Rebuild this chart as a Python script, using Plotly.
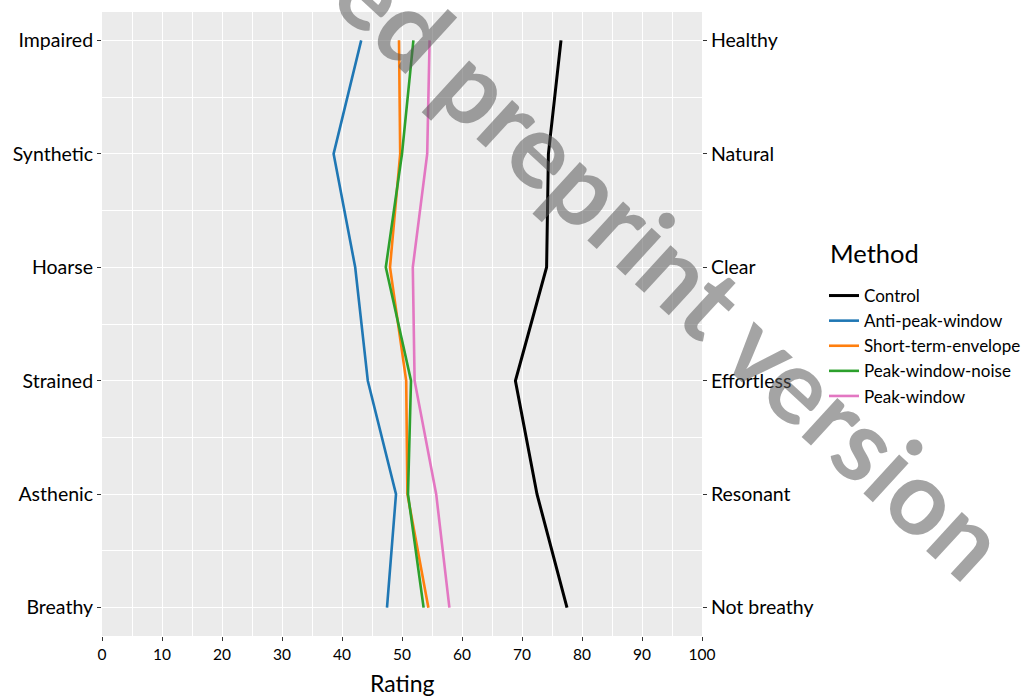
import plotly.graph_objects as go

# ---- data ----
left_labels = ["Breathy", "Asthenic", "Strained", "Hoarse", "Synthetic", "Impaired"]
right_labels = ["Not breathy", "Resonant", "Effortless", "Clear", "Natural", "Healthy"]
positions = [1, 2, 3, 4, 5, 6]

methods = ["Control", "Anti-peak-window", "Short-term-envelope", "Peak-window-noise", "Peak-window"]
control = [77.5, 72.5, 68.9, 74.1, 74.4, 76.5]
anti_peak_window = [47.5, 49.0, 44.3, 42.2, 38.6, 43.2]
short_term_envelope = [54.4, 50.9, 50.7, 48.0, 49.7, 49.5]
peak_window_noise = [53.6, 51.0, 51.5, 47.3, 50.0, 51.9]
peak_window = [57.9, 55.7, 52.1, 51.8, 54.2, 54.6]

series = [control, anti_peak_window, short_term_envelope, peak_window_noise, peak_window]
colors = ["#000000", "#1f77b4", "#ff7f0e", "#2ca02c", "#e377c2"]
widths = [3, 2.6, 2.6, 2.6, 2.6]

x_ticks = list(range(0, 101, 10))

FONT = "Lato"
W, H = 1029, 696

fig = go.Figure()
for name, vals, c, w in zip(methods, series, colors, widths):
    fig.add_trace(go.Scatter(x=vals, y=positions, mode="lines", name=name,
                             line=dict(color=c, width=w)))

# dummy trace to activate right axis
fig.add_trace(go.Scatter(x=[None], y=[None], yaxis="y2", showlegend=False,
                         hoverinfo="skip"))

yrange = [0.75, 6.25]
common_y = dict(range=yrange, tickmode="array", tickvals=positions,
                ticks="outside", ticklen=4, tickcolor="#333333", tickwidth=1,
                tickfont=dict(family=FONT, size=19.5, color="#000000"),
                zeroline=False, showline=False)

fig.update_layout(
    width=W, height=H,
    margin=dict(l=102, r=327, t=12, b=60, autoexpand=False),
    paper_bgcolor="white", plot_bgcolor="#ebebeb",
    font=dict(family=FONT, color="#000000"),
    xaxis=dict(range=[0, 100], tickmode="array", tickvals=x_ticks,
               ticks="outside", ticklen=4, tickcolor="#333333",
               tickfont=dict(family=FONT, size=15.5, color="#000000"),
               showgrid=True, gridcolor="white", gridwidth=1.3,
               zeroline=False, showline=False, automargin=False,
               minor=dict(tickvals=[v + 5 for v in x_ticks[:-1]], showgrid=True,
                          gridcolor="white", gridwidth=0.6, ticks="")),
    yaxis=dict(**common_y, ticktext=left_labels, showgrid=True, gridcolor="white",
               gridwidth=1.3, automargin=False,
               minor=dict(tickvals=[p + 0.5 for p in positions[:-1]], showgrid=True,
                          gridcolor="white", gridwidth=0.6, ticks="")),
    yaxis2=dict(**common_y, ticktext=right_labels, overlaying="y", side="right",
                showgrid=False, automargin=False),
    legend=dict(xref="container", yref="container",
                x=824 / W, xanchor="left", y=1 - 278 / H, yanchor="top",
                bgcolor="rgba(0,0,0,0)", font=dict(family=FONT, size=17),
                tracegroupgap=0),
    showlegend=True,
)

fig.add_annotation(text="Method", xref="paper", yref="paper",
                   x=(828 - 102) / 600, y=(636 - 253) / 624,
                   xanchor="left", yanchor="middle", showarrow=False,
                   font=dict(family=FONT, size=25.5, color="#000000"))

fig.add_annotation(text="Rating", xref="paper", yref="paper", x=0.5, y=-0.0753,
                   xanchor="center", yanchor="middle", showarrow=False,
                   font=dict(family=FONT, size=23, color="#000000"))

fig.add_annotation(text="ed preprint version", xref="paper", yref="paper",
                   x=0.95, y=0.596, xanchor="center", yanchor="middle",
                   showarrow=False, textangle=42.5,
                   font=dict(family=FONT, size=103, color="rgba(90,90,90,0.55)",
                             weight="bold"))

fig.write_html("out.html")
